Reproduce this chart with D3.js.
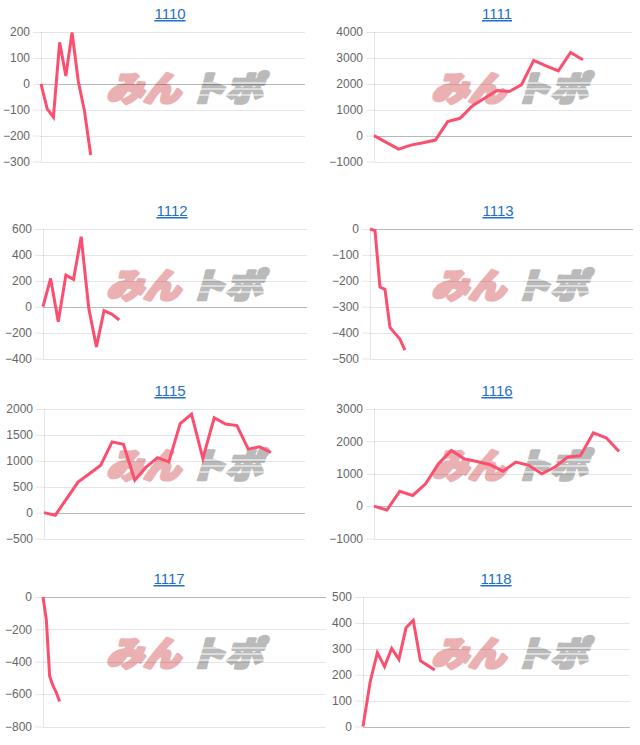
<!DOCTYPE html>
<html>
<head>
<meta charset="utf-8">
<script src="https://cdn.jsdelivr.net/npm/d3@7"></script>
<style>
  html, body { margin: 0; padding: 0; background: #fff; }
  svg { display: block; }
</style>
</head>
<body>
<svg id="chart" width="640" height="745"></svg>
<script>
// machine numbers (panel titles)
var codes = ['1110', '1111', '1112', '1113', '1115', '1116', '1117', '1118'];

// daily running totals
var s1110 = [0, -97, -129, 160, 30, 198, 10, -105, -275];
var s1111 = [0, -260, -522, -367, -277, -173, 539, 668, 1146, 1443, 1739, 1700, 1959, 2902, 2695, 2501, 3212, 2928];
var s1112 = [0, 218, -116, 244, 211, 540, -13, -310, -31, -57, -103];
var s1113 = [0, -6, -224, -233, -380, -403, -425, -468];
var s1115 = [0, -50, 270, 590, 750, 915, 1365, 1320, 625, 880, 1060, 980, 1720, 1900, 1045, 1830, 1710, 1680, 1225, 1270, 1160];
var s1116 = [0, -120, 460, 330, 690, 1310, 1720, 1460, 1380, 1280, 1080, 1360, 1260, 1000, 1200, 1510, 1560, 2260, 2110, 1690];
var s1117 = [0, -140, -490, -548, -590, -645];
var s1118 = [0, 173, 285, 231, 301, 259, 381, 410, 254, 236, 218];
var series = [s1110, s1111, s1112, s1113, s1115, s1116, s1117, s1118];

// length of the x range of each panel (in days)
var xSpans = [42.5, 21, 34.6, 52.7, 23, 20, 85, 37.2];

// y tick labels
var yTicks = [
    [-300, -200, -100, 0, 100, 200],
    [-1000, 0, 1000, 2000, 3000, 4000],
    [-400, -200, 0, 200, 400, 600],
    [-500, -400, -300, -200, -100, 0],
    [-500, 0, 500, 1000, 1500, 2000],
    [-1000, 0, 1000, 2000, 3000],
    [-800, -600, -400, -200, 0],
    [0, 100, 200, 300, 400, 500]
];

// layout
var rowTops = [32, 229, 409, 597];
var plotH = 129.5;
var plotLeft = [41, 374, 43, 370, 44, 374, 43, 363];
var plotRight = [305, 632, 307, 633, 305, 632, 326, 630];
var titleX = [170, 497, 172, 498, 170, 497, 169, 496];
var markX = [188, 513];

var lineColor = '#fb4f6f';

var svg = d3.select('#chart');

function markText(sel, x0, txt, color){
    sel.append('text')
        .attr('x', x0).attr('y', 13)
        .attr('transform', 'skewX(-16)')
        .attr('textLength', 74)
        .attr('lengthAdjust', 'spacingAndGlyphs')
        .style('font-family', '"Noto Sans CJK JP", sans-serif')
        .style('font-weight', 900)
        .style('font-size', '34px')
        .style('fill', color)
        .style('stroke', color)
        .style('stroke-width', 3.2)
        .style('stroke-linejoin', 'round')
        .text(txt);
}

codes.forEach(function(code, i){
    var col = i % 2, row = Math.floor(i / 2);
    var top = rowTops[row];
    var left = plotLeft[i], right = plotRight[i];
    var ticks = yTicks[i];

    var x = d3.scaleLinear().domain([0, xSpans[i]]).range([left, right]);
    var y = d3.scaleLinear().domain(d3.extent(ticks)).range([top + plotH, top]);

    var g = svg.append('g');

    // watermark
    var wm = g.append('g')
        .attr('transform', 'translate(' + markX[col] + ',' + (top + 56) + ')');
    markText(wm, -78, 'みん', '#eab0b2');
    markText(wm, 4, 'トポ', '#bababa');
    // speed stripes on the grey half
    [-5, 1, 7].forEach(function(dy){
        wm.append('line')
            .attr('x1', 2).attr('x2', 82)
            .attr('y1', dy).attr('y2', dy)
            .style('stroke', '#fff')
            .style('stroke-width', 1.2);
    });

    // grid
    g.selectAll('.grid')
        .data(ticks)
        .enter().append('line')
        .attr('x1', left).attr('x2', right)
        .attr('y1', function(d){ return Math.round(y(d)) + 0.5; })
        .attr('y2', function(d){ return Math.round(y(d)) + 0.5; })
        .style('stroke', function(d){ return d === 0 ? 'rgba(0,0,0,0.28)' : 'rgba(0,0,0,0.1)'; })
        .style('stroke-width', 1);

    g.append('line')
        .attr('x1', left + 0.5).attr('x2', left + 0.5)
        .attr('y1', top).attr('y2', top + plotH)
        .style('stroke', 'rgba(0,0,0,0.1)');

    // y axis
    var axis = g.append('g')
        .attr('transform', 'translate(' + left + ',0)')
        .call(d3.axisLeft(y).tickValues(ticks).tickSize(8).tickPadding(3).tickFormat(d3.format('d')));
    axis.select('.domain').remove();
    axis.selectAll('.tick line').style('stroke', 'rgba(0,0,0,0.1)');
    axis.selectAll('.tick text')
        .style('font-family', '"Liberation Sans", Arial, sans-serif')
        .style('font-size', '12px')
        .style('fill', '#666');

    // line
    g.append('path')
        .datum(series[i])
        .attr('d', d3.line()
            .x(function(d, k){ return x(k); })
            .y(function(d){ return y(d); }))
        .style('fill', 'none')
        .style('stroke', lineColor)
        .style('stroke-width', 3)
        .style('stroke-linejoin', 'miter');

    // title
    g.append('text')
        .attr('x', titleX[i])
        .attr('y', top - 13)
        .attr('text-anchor', 'middle')
        .style('font-family', '"Liberation Sans", Arial, sans-serif')
        .style('font-size', '15px')
        .style('fill', '#1f6fc5')
        .style('text-decoration', 'underline')
        .text(code);
});
</script>
</body>
</html>
